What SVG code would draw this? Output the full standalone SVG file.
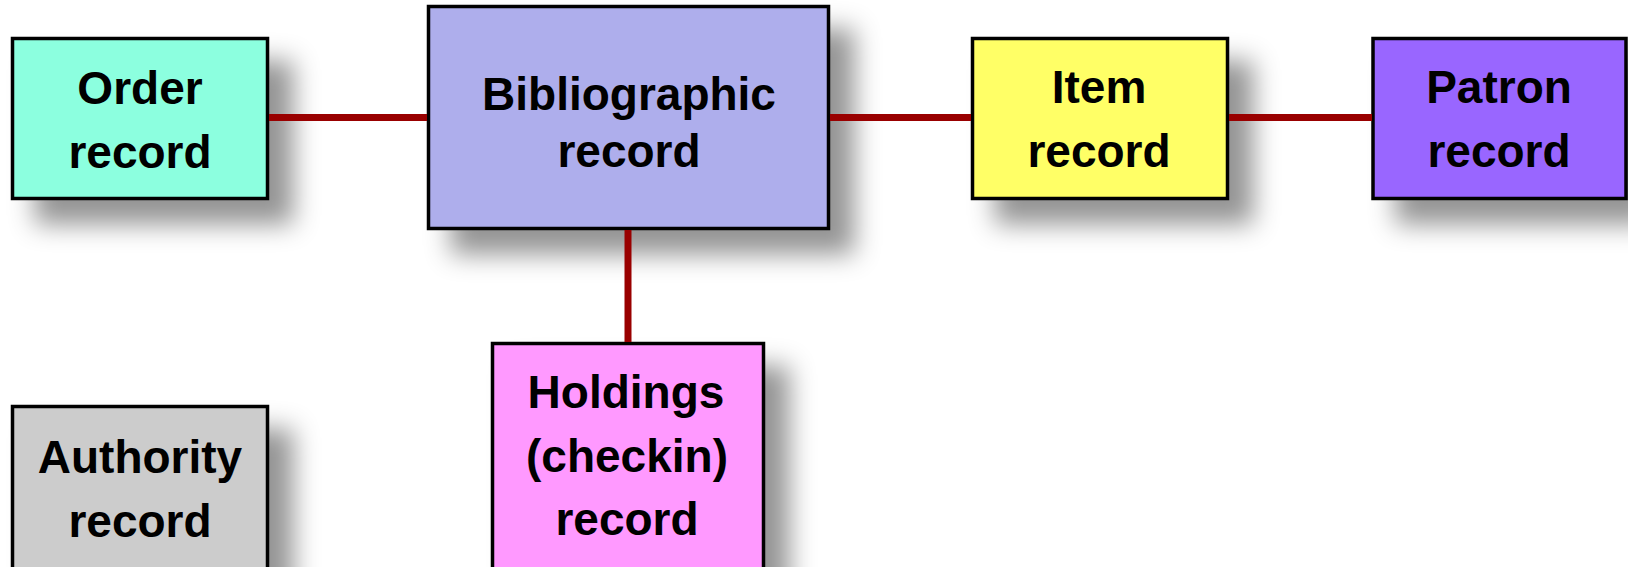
<svg xmlns="http://www.w3.org/2000/svg" width="1628" height="567" viewBox="0 0 1628 567">
  <defs>
    <filter id="shadow" x="-30%" y="-30%" width="170%" height="180%">
      <feDropShadow dx="24" dy="24" stdDeviation="13" flood-color="#000" flood-opacity="0.42"/>
    </filter>
  </defs>
  <style>
    .box { stroke: #000; stroke-width: 3.5; filter: url(#shadow); }
    .lbl { font-family: "Liberation Sans", Arial, sans-serif; font-weight: bold; font-size: 46px; fill: #000; text-anchor: middle; }
    .link { stroke: #990000; stroke-width: 7; fill: none; }
  </style>
  <rect width="1628" height="567" fill="#fff"/>

  <!-- record types -->
  <g id="order">
    <rect class="box" x="12.5" y="38.5" width="255" height="160" fill="#8CFFDF"/>
    <text class="lbl" x="140" y="104">Order</text>
    <text class="lbl" x="140" y="168">record</text>
  </g>
  <g id="bibliographic">
    <rect class="box" x="428.5" y="6.5" width="400" height="222" fill="#AEAEEC"/>
    <text class="lbl" x="629" y="110">Bibliographic</text>
    <text class="lbl" x="629" y="167">record</text>
  </g>
  <g id="item">
    <rect class="box" x="972.5" y="38.5" width="255" height="160" fill="#FFFF66"/>
    <text class="lbl" x="1099" y="103">Item</text>
    <text class="lbl" x="1099" y="167">record</text>
  </g>
  <g id="patron">
    <rect class="box" x="1373" y="38.5" width="253" height="160" fill="#9966FF"/>
    <text class="lbl" x="1499" y="103">Patron</text>
    <text class="lbl" x="1499" y="167">record</text>
  </g>
  <g id="holdings">
    <rect class="box" x="492.5" y="343.5" width="271" height="240" fill="#FF99FF"/>
    <text class="lbl" x="626" y="408">Holdings</text>
    <text class="lbl" x="627" y="472">(checkin)</text>
    <text class="lbl" x="627" y="535">record</text>
  </g>
  <g id="authority">
    <rect class="box" x="12.5" y="406.5" width="255" height="180" fill="#CCCCCC"/>
    <text class="lbl" x="140" y="473">Authority</text>
    <text class="lbl" x="140" y="537">record</text>
  </g>

  <!-- links between records -->
  <g id="connectors">
    <line class="link" x1="269" y1="117.5" x2="427" y2="117.5"/>
    <line class="link" x1="830" y1="117.5" x2="971" y2="117.5"/>
    <line class="link" x1="1229" y1="117.5" x2="1372" y2="117.5"/>
    <line class="link" x1="628" y1="230" x2="628" y2="342"/>
  </g>
</svg>
